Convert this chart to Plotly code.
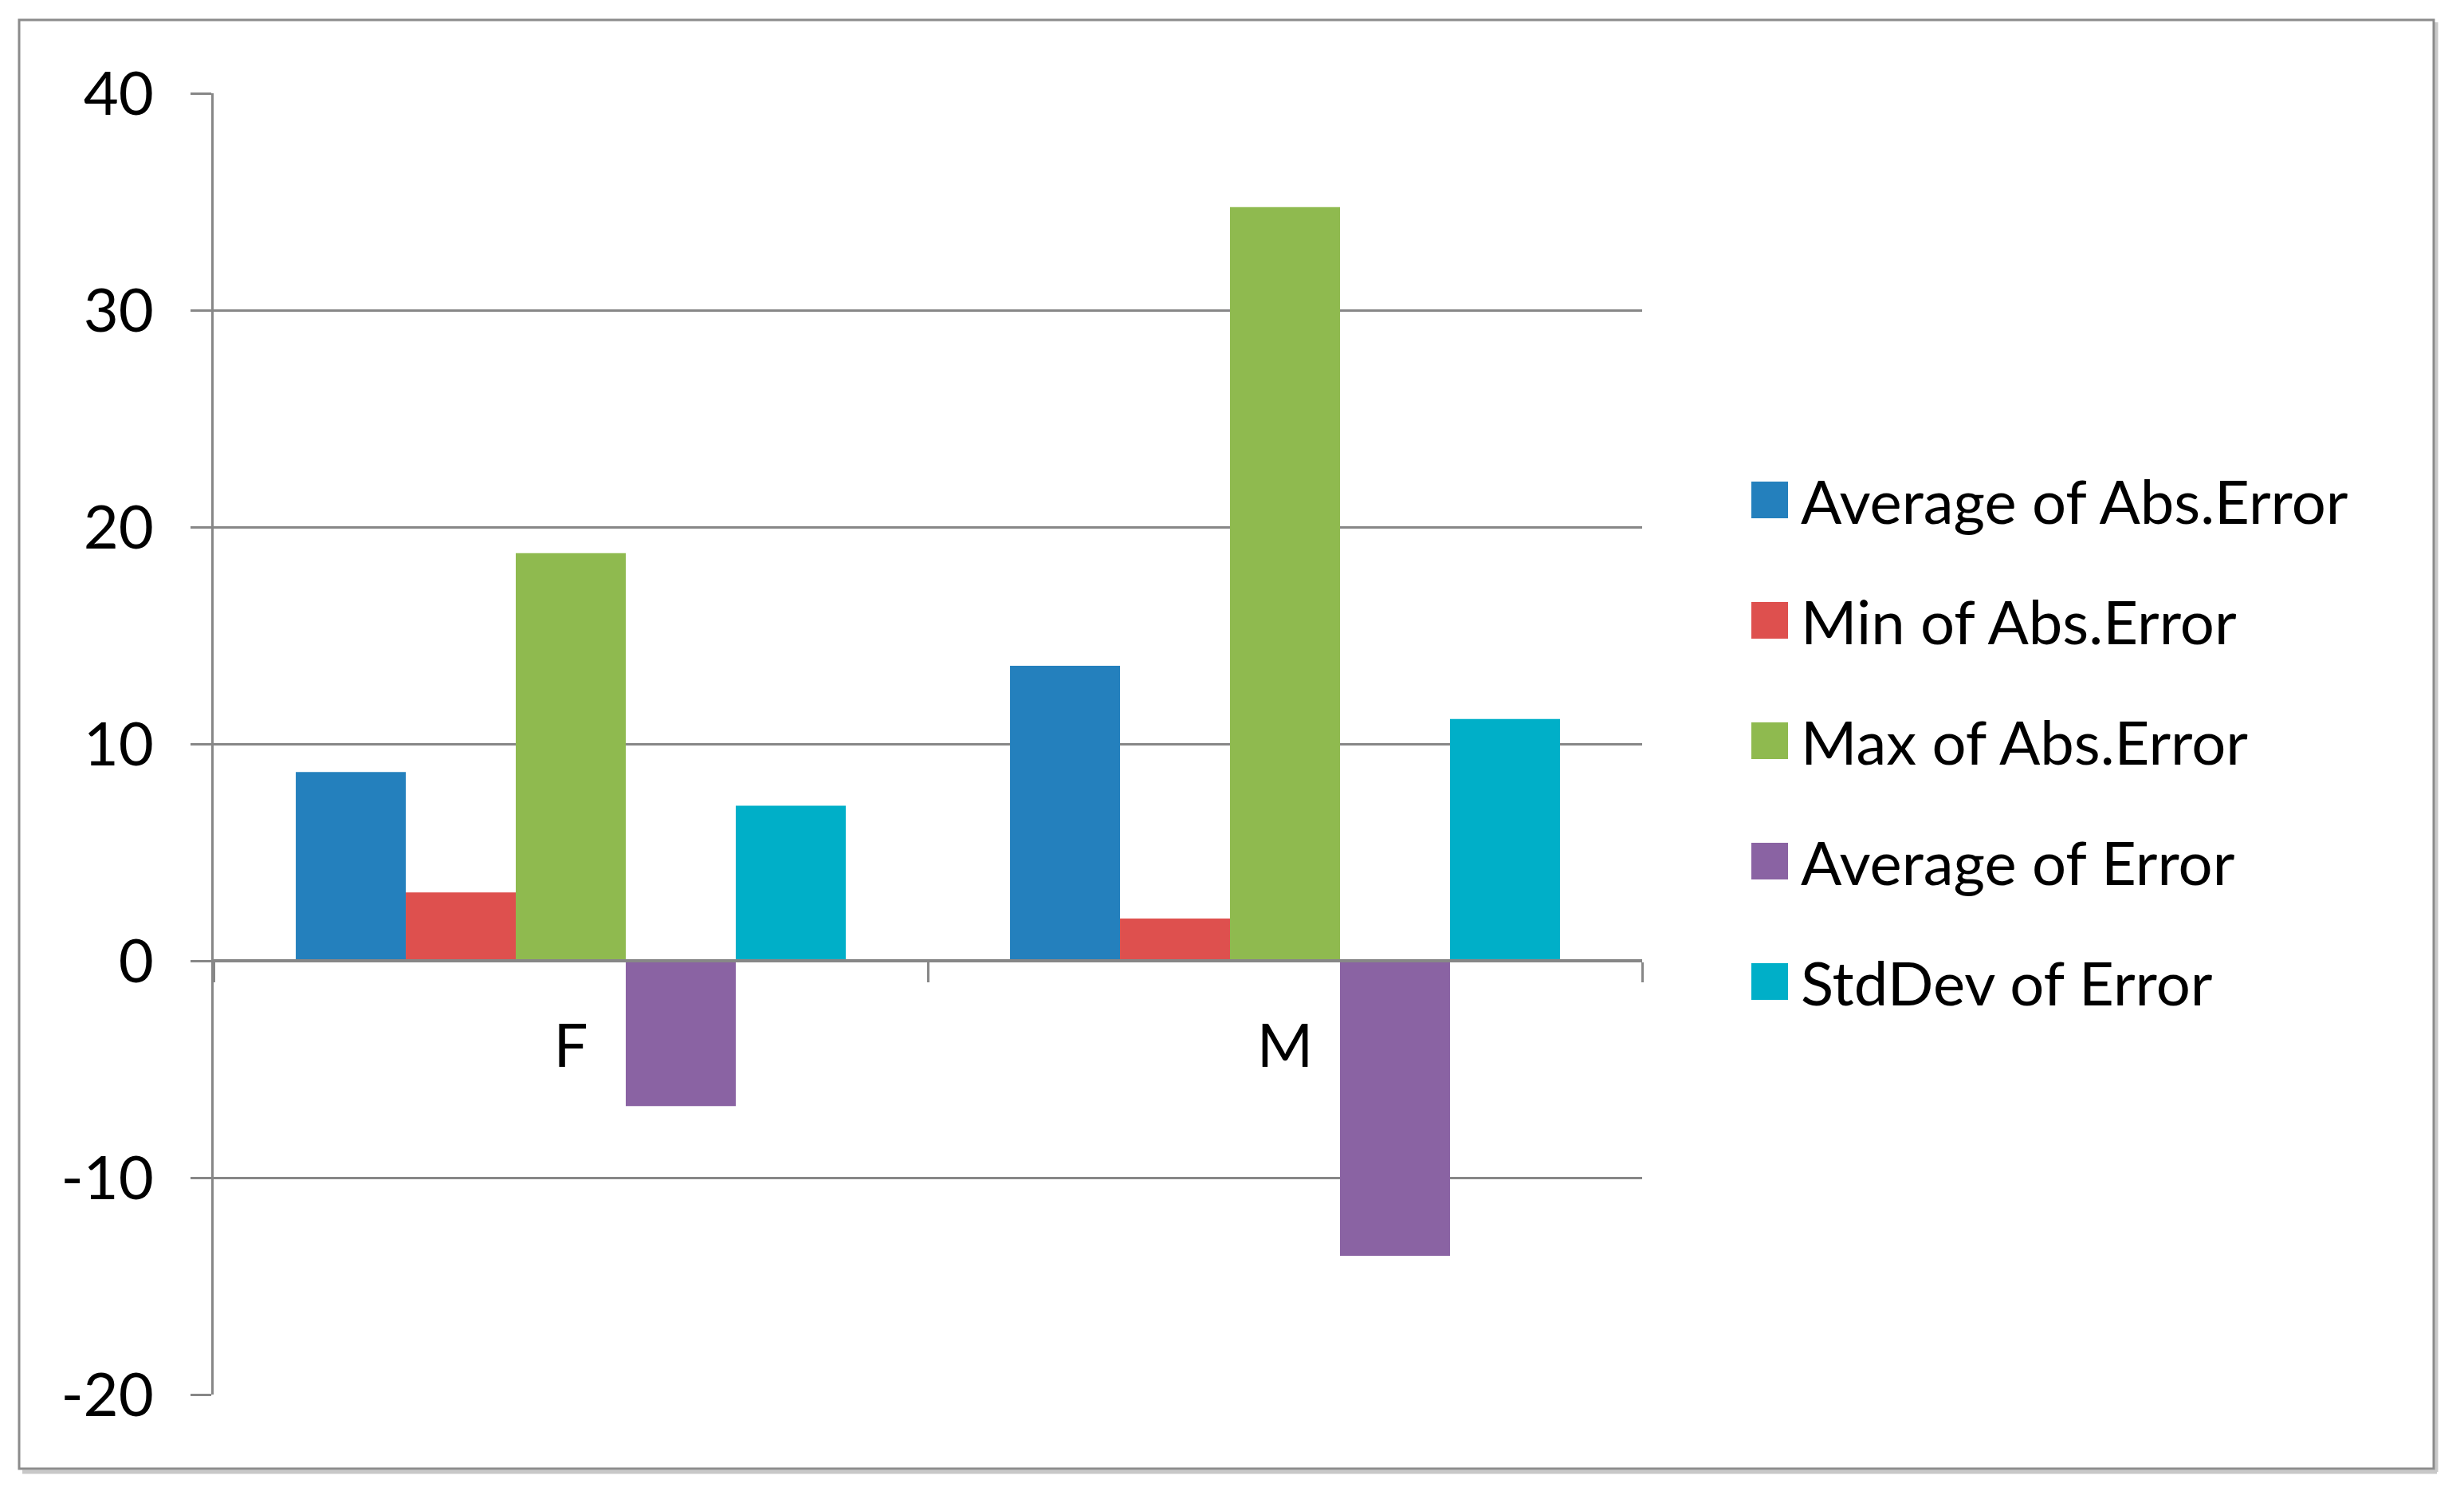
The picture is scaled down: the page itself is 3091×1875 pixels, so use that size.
import plotly.graph_objects as go

# ---------------- data ----------------
categories = ["F", "M"]
series_names = [
    "Average of Abs.Error",
    "Min of Abs.Error",
    "Max of Abs.Error",
    "Average of Error",
    "StdDev of Error",
]
avg_abs_error = [8.7, 13.6]
min_abs_error = [3.15, 1.95]
max_abs_error = [18.8, 34.75]
avg_error = [-6.7, -13.6]
stddev_error = [7.15, 11.15]
y_tick_values = [-20, -10, 0, 10, 20, 30, 40]

series_values = [avg_abs_error, min_abs_error, max_abs_error, avg_error, stddev_error]
series_colors = ["#2480BD", "#DE504E", "#8FBA4F", "#8A63A3", "#00AFC8"]

# ---------------- layout geometry ----------------
OFF = 8  # default page body margin
W, H = 3091 - 2 * OFF, 1875 - 2 * OFF
L = 268 - OFF
T = 117 - OFF
R = W - (2060 - OFF)
B = H - (1749 - OFF)
PW = W - L - R
PH = H - T - B
Y_MIN, Y_MAX = -20, 40
GRAY = "#878787"
FONT = "Lato, 'Open Sans', sans-serif"
FS = 76


def px_x(page_px):
    return (page_px - OFF - L) / PW


def px_y(page_py):
    return (H - B - (page_py - OFF)) / PH


fig = go.Figure()
for name, vals, col in zip(series_names, series_values, series_colors):
    fig.add_trace(
        go.Bar(
            x=categories,
            y=vals,
            name=name,
            marker=dict(color=col, line=dict(width=0)),
            showlegend=False,
        )
    )

shapes = []
annotations = []

# custom legend (large square swatches, like the original)
row0, row_step = 627, 151
for i, (name, col) in enumerate(zip(series_names, series_colors)):
    cy = row0 + row_step * i
    shapes.append(
        dict(
            type="rect", xref="paper", yref="paper",
            x0=px_x(2197), x1=px_x(2243), y0=px_y(cy + 23), y1=px_y(cy - 23),
            fillcolor=col, line=dict(width=0),
        )
    )
    annotations.append(
        dict(
            xref="paper", yref="paper", x=px_x(2257), y=px_y(cy),
            xanchor="left", yanchor="middle", text=name, showarrow=False,
            font=dict(family=FONT, size=FS, color="black"),
        )
    )

# outer chart frame with a soft shadow
shapes.append(
    dict(type="line", xref="paper", yref="paper",
         x0=px_x(28), x1=px_x(3057), y0=px_y(1846), y1=px_y(1846),
         line=dict(color="#c8c8c8", width=5))
)
shapes.append(
    dict(type="line", xref="paper", yref="paper",
         x0=px_x(3056), x1=px_x(3056), y0=px_y(28), y1=px_y(1846),
         line=dict(color="#c8c8c8", width=5))
)
shapes.append(
    dict(type="rect", xref="paper", yref="paper",
         x0=px_x(24), x1=px_x(3053), y0=px_y(1842), y1=px_y(25),
         line=dict(color="#8c8c8c", width=3), fillcolor="rgba(0,0,0,0)")
)

fig.update_layout(
    width=W,
    height=H,
    margin=dict(l=L, r=R, t=T, b=B, pad=0),
    barmode="group",
    bargap=0.23,
    bargroupgap=0,
    plot_bgcolor="white",
    paper_bgcolor="white",
    font=dict(family=FONT, size=FS, color="black"),
    shapes=shapes,
    annotations=annotations,
    xaxis=dict(
        type="category",
        range=[-0.5, 1.5],
        anchor="free",
        position=(0 - Y_MIN) / (Y_MAX - Y_MIN),
        showline=True,
        linecolor=GRAY,
        linewidth=4,
        ticks="outside",
        tickson="boundaries",
        ticklen=25,
        tickwidth=3,
        tickcolor=GRAY,
        showgrid=False,
        zeroline=False,
        ticklabelstandoff=40,
        tickfont=dict(family=FONT, size=FS, color="black"),
    ),
    yaxis=dict(
        range=[Y_MIN, Y_MAX],
        tickmode="array",
        tickvals=y_tick_values,
        ticktext=[str(v) for v in y_tick_values],
        showgrid=True,
        gridcolor=GRAY,
        gridwidth=3,
        zeroline=False,
        showline=True,
        linecolor=GRAY,
        linewidth=3,
        ticks="outside",
        ticklen=26,
        tickwidth=3,
        tickcolor=GRAY,
        ticklabelstandoff=31,
        tickfont=dict(family=FONT, size=FS, color="black"),
    ),
)

fig.write_html("out.html")
